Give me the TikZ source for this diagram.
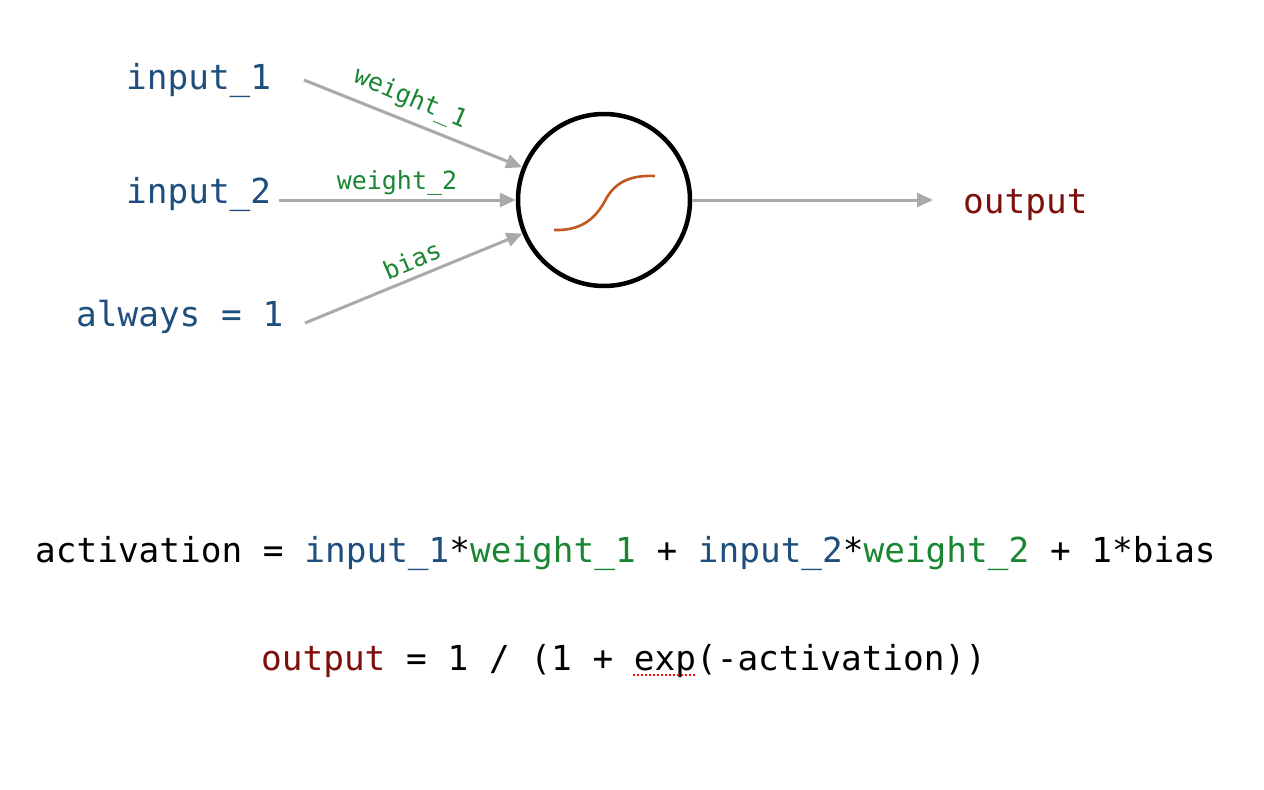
\documentclass[tikz,border=0pt]{standalone}
\usepackage{fontspec}
\setmainfont{DejaVu Sans Mono}
\usetikzlibrary{arrows.meta}
\definecolor{inblue}{RGB}{30,78,126}
\definecolor{wgreen}{RGB}{26,134,52}
\definecolor{outred}{RGB}{125,15,12}
\definecolor{arrgray}{RGB}{170,170,170}
\definecolor{sigorange}{RGB}{192,88,32}
\tikzset{
  biglabel/.style={inner sep=0pt, anchor=base west, font=\fontsize{34.4}{40}\selectfont},
  wlabel/.style={inner sep=0pt, text=wgreen, font=\fontsize{25}{30}\selectfont},
  conn/.style={draw=arrgray, line width=3pt, -{Triangle[length=16pt,width=14pt]}},
}
\begin{document}
\begin{tikzpicture}[x=1pt,y=-1pt]
\useasboundingbox[fill=white] (0,0) rectangle (1264,790);
% input labels
\node[biglabel, text=inblue] (in1) at (126,89) {input\_1};
\node[biglabel, text=inblue] (in2) at (126,203) {input\_2};
\node[biglabel, text=inblue] (in3) at (76,326) {always = 1};
\node[biglabel, text=outred] (out) at (963,213) {output};
% connector ends
\coordinate (s1) at (304,80);
\coordinate (s2) at (279,200);
\coordinate (s3) at (305,323);
\coordinate (o1) at (933,200);
% neuron
\node[circle, draw=black, line width=4.5pt, minimum size=172pt, inner sep=0pt] (neuron) at (604,200) {};
\draw[sigorange, line width=2.6pt] (554,230) .. controls (584,231) and (597,216) .. (606,199)
   .. controls (616,181) and (632,175) .. (655,176);
% connectors
\draw[conn] (s1) -- (neuron);
\draw[conn] (s2) -- (neuron);
\draw[conn] (s3) -- (neuron);
\draw[conn] (neuron) -- (o1);
% weight labels
\node[wlabel, rotate=-23] (w1) at (410,99) {weight\_1};
\node[wlabel] (w2) at (397,183) {weight\_2};
\node[wlabel, rotate=23] (wb) at (412,260) {bias};
% equations
\node[biglabel] (eq1) at (35,562) {activation = \textcolor{inblue}{input\_1}*\textcolor{wgreen}{weight\_1} + \textcolor{inblue}{input\_2}*\textcolor{wgreen}{weight\_2} + 1*bias};
\node[biglabel] (eq2) at (261,670) {\textcolor{outred}{output} = 1 / (1 + exp(-activation))};
\draw[red, line width=1.6pt, dash pattern=on 2pt off 2pt] (633,675) -- (695,675);
\end{tikzpicture}
\end{document}
